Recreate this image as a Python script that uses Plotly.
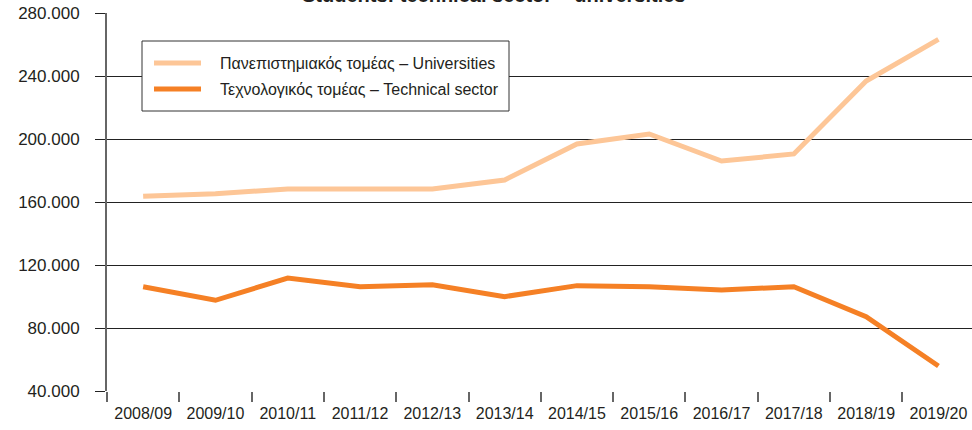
import plotly.graph_objects as go

years = ["2008/09", "2009/10", "2010/11", "2011/12", "2012/13", "2013/14",
         "2014/15", "2015/16", "2016/17", "2017/18", "2018/19", "2019/20"]
universities = [163600, 165300, 168300, 168500, 168300, 174000,
                196800, 203200, 186000, 190500, 236800, 263300]
technical = [106200, 97600, 111700, 106200, 107500, 99900,
             106900, 106200, 104100, 106200, 87200, 55900]
name_univ = "Πανεπιστημιακός τομέας – Universities"
name_tech = "Τεχνολογικός τομέας – Technical sector"
title_text = "Students: technical sector – universities"
y_ticks = [40000, 80000, 120000, 160000, 200000, 240000, 280000]
y_ticktext = ["40.000", "80.000", "120.000", "160.000", "200.000", "240.000", "280.000"]

C_UNIV = "#FDC697"
C_TECH = "#F58025"
FONT = "Liberation Sans, Arial, sans-serif"
TXT = "#231F20"

W, H = 972, 430
ML, MR, MT, MB = 107, 0, 13, 39
PW, PH = W - ML - MR, H - MT - MB
step = 72.3
xi = list(range(len(years)))

fig = go.Figure()
fig.add_trace(go.Scatter(x=xi, y=universities, mode="lines", name=name_univ,
                         line=dict(color=C_UNIV, width=5), showlegend=False))
fig.add_trace(go.Scatter(x=xi, y=technical, mode="lines", name=name_tech,
                         line=dict(color=C_TECH, width=5), showlegend=False))

def px_x(p):
    return (p - ML) / PW

def px_y(p):
    return (H - MB - p) / PH

# manual legend
shapes = [dict(type="rect", xref="paper", yref="paper",
               x0=px_x(142), x1=px_x(509), y0=px_y(111), y1=px_y(41),
               line=dict(color="#333333", width=1), fillcolor="white", layer="above")]
annotations = []
for name, col, yy in [(name_univ, C_UNIV, 63), (name_tech, C_TECH, 89)]:
    shapes.append(dict(type="line", xref="paper", yref="paper",
                       x0=px_x(154), x1=px_x(201), y0=px_y(yy), y1=px_y(yy),
                       line=dict(color=col, width=5), layer="above"))
    annotations.append(dict(xref="paper", yref="paper", x=px_x(218), y=px_y(yy),
                            xanchor="left", yanchor="middle", showarrow=False,
                            text=name, font=dict(family=FONT, size=16, color=TXT)))

annotations.append(dict(xref="paper", yref="paper", x=px_x(493), y=1,
                        xanchor="center", yanchor="bottom", yshift=5, showarrow=False,
                        text="<b>" + title_text + "</b>",
                        font=dict(family=FONT, size=20, color=TXT)))

fig.update_layout(
    width=W, height=H,
    margin=dict(l=ML, r=MR, t=MT, b=MB, pad=0, autoexpand=False),
    paper_bgcolor="white", plot_bgcolor="white",
    shapes=shapes, annotations=annotations,
    font=dict(family=FONT, color=TXT),
    xaxis=dict(
        range=[-0.5, -0.5 + PW / step],
        tickmode="array", tickvals=xi, ticktext=years,
        ticks="", showgrid=False, zeroline=False,
        showline=False, automargin=False,
        tickfont=dict(family=FONT, size=16, color=TXT),
        ticklabelstandoff=11,
        minor=dict(tickmode="linear", tick0=-0.5, dtick=1, ticks="outside",
                   ticklen=10, tickwidth=2, tickcolor="#666666", showgrid=False),
        fixedrange=True,
    ),
    yaxis=dict(
        range=[40000, 280000],
        tickmode="array", tickvals=y_ticks, ticktext=y_ticktext,
        ticks="outside", ticklen=10, tickwidth=1, tickcolor="#222222",
        showgrid=True, gridcolor="#222222", gridwidth=1,
        zeroline=False, automargin=False,
        showline=True, linecolor="#666666", linewidth=2,
        tickfont=dict(family=FONT, size=17, color=TXT),
        ticklabelstandoff=12,
        fixedrange=True,
    ),
)

fig.write_html("out.html",
               config={"displayModeBar": False},
               post_script="document.body.style.margin='0';document.body.style.overflow='hidden';")
